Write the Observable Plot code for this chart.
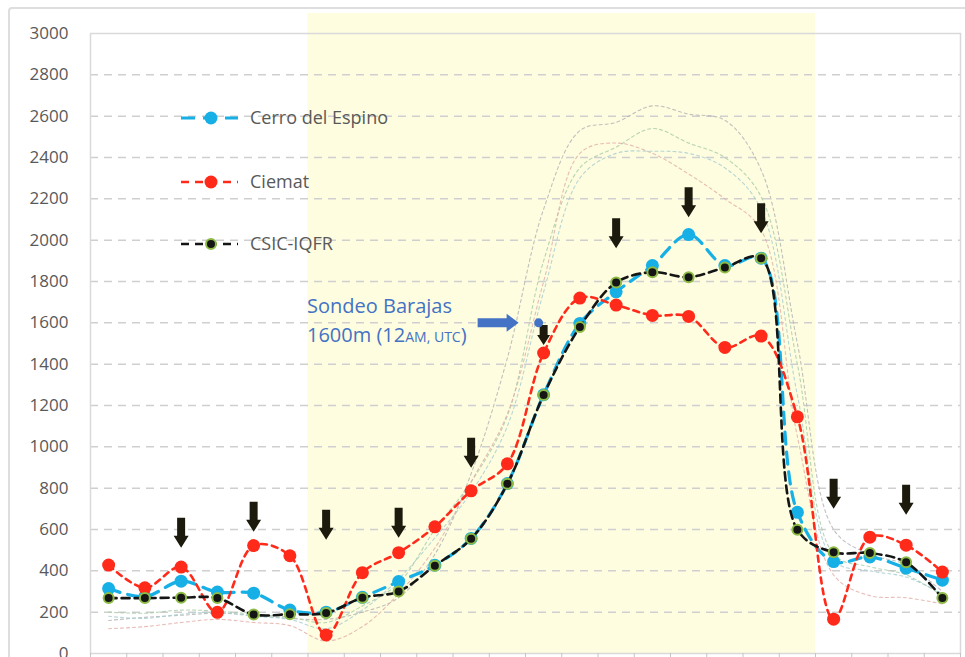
<!DOCTYPE html>
<html>
<head>
<meta charset="utf-8">
<script src="https://cdn.jsdelivr.net/npm/d3@7"></script>
<script src="https://cdn.jsdelivr.net/npm/@observablehq/plot@0.6"></script>
<style>
  html, body { margin: 0; padding: 0; background: #fff; }
  #chart { position: relative; width: 965px; height: 657px; overflow: hidden; }
  #border { position: absolute; left: 8px; top: 7px; width: 1000px; height: 720px;
            border: 2px solid #dedede; border-radius: 4px; box-sizing: border-box; }
  #chart svg { position: absolute; left: 0; top: 0; }
</style>
</head>
<body>
<div id="chart"><div id="border"></div></div>
<script>
// Hourly mixing-layer height (m) at three Madrid sites, hours 0–23 UTC
const hours = d3.range(24);
const cerroDelEspino = [314, 275, 350, 297, 292, 210, 200, 272, 348, 427, 557, 822, 1252, 1597, 1750, 1877, 2027, 1877, 1913, 683, 445, 467, 413, 355];
const ciemat         = [428, 318, 418, 199, 522, 473, 90, 391, 488, 613, 787, 918, 1454, 1720, 1686, 1636, 1631, 1481, 1536, 1145, 166, 563, 524, 394];
const csicIqfr       = [268, 268, 270, 268, 189, 190, 196, 270, 300, 425, 555, 821, 1251, 1580, 1795, 1845, 1821, 1868, 1913, 599, 490, 486, 441, 268];

// Faint reference profiles drawn behind the three series
const profileGray  = [160, 175, 185, 195, 185, 170, 165, 200, 270, 480, 870, 1430, 2150, 2530, 2570, 2650, 2610, 2580, 2340, 1500, 600, 480, 430, 300];
const profileGreen = [200, 195, 210, 205, 190, 175, 150, 230, 340, 600, 830, 1150, 1900, 2350, 2450, 2540, 2470, 2400, 2210, 1400, 480, 420, 380, 280];
const profilePink  = [120, 130, 150, 165, 150, 135, 60, 130, 290, 510, 830, 1160, 1800, 2420, 2470, 2420, 2320, 2200, 2050, 1050, 380, 280, 270, 240];
const profileTeal  = [180, 170, 190, 200, 180, 165, 120, 210, 360, 560, 780, 1100, 1750, 2300, 2420, 2430, 2420, 2350, 2150, 1250, 450, 400, 370, 290];

// Highlighted hours (arrow tip heights, m)
const arrowHours = [2, 4, 6, 8, 10, 14, 16, 18, 20, 22];
const arrowTips  = [512, 589, 551, 560, 899, 1961, 2111, 2034, 700, 671];
const shortArrowHours = [12];
const shortArrowTips  = [1493];

// Barajas radiosonde, 12 UTC
const sondeoHours   = [12];
const sondeoHeights = [1600];

// Daytime shading (hours) and y ticks
const daytime = [[6, 20]];
const yTicks = d3.range(0, 3001, 200);

const rows = hours.map((h, i) => ({
  hour: h,
  cerro: cerroDelEspino[i],
  ciemat: ciemat[i],
  csic: csicIqfr[i],
  gray: profileGray[i],
  green: profileGreen[i],
  pink: profilePink[i],
  teal: profileTeal[i]
}));
const arrows = arrowHours.map((h, i) => ({hour: h, tip: arrowTips[i]}));
const shortArrows = shortArrowHours.map((h, i) => ({hour: h, tip: shortArrowTips[i]}));
const sondeo = sondeoHours.map((h, i) => ({hour: h, height: sondeoHeights[i]}));

const xc = d => d.hour + 0.5;

// Block arrow pointing down, tip at the origin
const downArrow = {
  draw(ctx) {
    ctx.moveTo(-4, -30); ctx.lineTo(4, -30); ctx.lineTo(4, -12);
    ctx.lineTo(7.5, -12); ctx.lineTo(0, 0); ctx.lineTo(-7.5, -12);
    ctx.lineTo(-4, -12); ctx.closePath();
  }
};
const shortDownArrow = {
  draw(ctx) {
    ctx.moveTo(-4, -20); ctx.lineTo(4, -20); ctx.lineTo(4, -10);
    ctx.lineTo(6.5, -10); ctx.lineTo(0, 0); ctx.lineTo(-6.5, -10);
    ctx.lineTo(-4, -10); ctx.closePath();
  }
};
// Block arrow pointing right, tip at the origin
const rightArrow = {
  draw(ctx) {
    ctx.moveTo(-41, -4.5); ctx.lineTo(-12, -4.5); ctx.lineTo(-12, -9);
    ctx.lineTo(0, 0); ctx.lineTo(-12, 9); ctx.lineTo(-12, 4.5);
    ctx.lineTo(-41, 4.5); ctx.closePath();
  }
};

const CYAN = "#17b0e6", RED = "#ff2a1a", BLACK = "#151515", GREEN_RING = "#8dbb45";
const faint = [["gray", "#b5b5b5"], ["green", "#a9cca9"], ["pink", "#e3b0aa"], ["teal", "#a9cfd1"]];

const plot = Plot.plot({
  width: 965,
  height: 657,
  marginLeft: 90,
  marginRight: 5,
  marginTop: 33,
  marginBottom: 4,
  x: {domain: [0, 24], axis: null},
  y: {domain: [0, 3000], axis: null},
  style: {fontFamily: "'Open Sans', sans-serif", color: "#595959", background: "transparent", overflow: "visible"},
  marks: [
    Plot.rect(daytime, {x1: d => d[0], x2: d => d[1], y1: 0, y2: 3097, fill: "#fefde0"}),
    Plot.gridY(yTicks.filter(v => v > 0 && v < 3000), {stroke: "#cfcfcf", strokeOpacity: 1, strokeWidth: 1.5, strokeDasharray: "8,6"}),
    Plot.frame({stroke: "#d9d9d9", strokeWidth: 1.5}),
    Plot.axisY(yTicks, {tickSize: 0, tickPadding: 22, fontSize: 17, tickFormat: d => String(d)}),
    Plot.axisX(d3.range(0, 25), {tickSize: 5, tickFormat: () => "", stroke: "#c4c4c4", label: null}),
    ...faint.map(([key, color]) =>
      Plot.line(rows, {x: xc, y: key, stroke: color, strokeWidth: 1.1, strokeOpacity: 0.85, strokeDasharray: "3,3", curve: "catmull-rom"})),
    Plot.line(rows, {x: xc, y: "cerro", stroke: CYAN, strokeWidth: 3.2, strokeDasharray: "12,8", curve: "catmull-rom"}),
    Plot.dot(rows, {x: xc, y: "cerro", r: 6.5, fill: CYAN}),
    Plot.line(rows, {x: xc, y: "ciemat", stroke: RED, strokeWidth: 2.6, strokeDasharray: "6,5", curve: "catmull-rom"}),
    Plot.dot(rows, {x: xc, y: "ciemat", r: 6.5, fill: RED}),
    Plot.line(rows, {x: xc, y: "csic", stroke: BLACK, strokeWidth: 2.6, strokeDasharray: "8,5", curve: "catmull-rom"}),
    Plot.dot(rows, {x: xc, y: "csic", r: 5, fill: BLACK, stroke: GREEN_RING, strokeWidth: 2}),
    Plot.dot(arrows, {x: xc, y: "tip", symbol: downArrow, r: 5, fill: "#1b1a0c"}),
    Plot.dot(shortArrows, {x: xc, y: "tip", symbol: shortDownArrow, r: 5, fill: "#1b1a0c"}),
    Plot.dot(sondeo, {x: xc, y: "height", symbol: rightArrow, r: 5, fill: "#4472c4", dx: -25}),
    Plot.dot(sondeo, {x: xc, y: "height", r: 4.5, fill: "#4472c4", dx: -5})
  ]
});

document.getElementById("chart").appendChild(plot);

// Legend and annotation text
const svg = d3.select(plot);
const legend = [
  {name: "Cerro del Espino", color: CYAN, dash: "14,8", width: 3.2, r: 6.5, ring: null, y: 118},
  {name: "Ciemat", color: RED, dash: "8,6", width: 2.6, r: 6.5, ring: null, y: 182},
  {name: "CSIC-IQFR", color: BLACK, dash: "8,6", width: 2.6, r: 5, ring: GREEN_RING, y: 244}
];
const lg = svg.append("g").attr("font-family", "'Open Sans', sans-serif").attr("text-anchor", "start");
legend.forEach(s => {
  lg.append("line").attr("x1", 181).attr("x2", 238).attr("y1", s.y).attr("y2", s.y)
    .attr("stroke", s.color).attr("stroke-width", s.width).attr("stroke-dasharray", s.dash);
  lg.append("circle").attr("cx", 211).attr("cy", s.y).attr("r", s.r)
    .attr("fill", s.color).attr("stroke", s.ring || "none").attr("stroke-width", 2);
  lg.append("text").attr("x", 250).attr("y", s.y).attr("dy", "0.35em")
    .attr("font-size", 18).attr("fill", "#595959").text(s.name);
});

const note = svg.append("g").attr("font-family", "'Open Sans', sans-serif")
  .attr("fill", "#4472c4").attr("text-anchor", "start");
note.append("text").attr("x", 307).attr("y", 313).attr("font-size", 20).text("Sondeo Barajas");
const l2 = note.append("text").attr("x", 307).attr("y", 342).attr("font-size", 20);
l2.append("tspan").text("1600m (12");
l2.append("tspan").attr("font-size", 14).text("AM, UTC");
l2.append("tspan").text(")");
</script>
</body>
</html>
